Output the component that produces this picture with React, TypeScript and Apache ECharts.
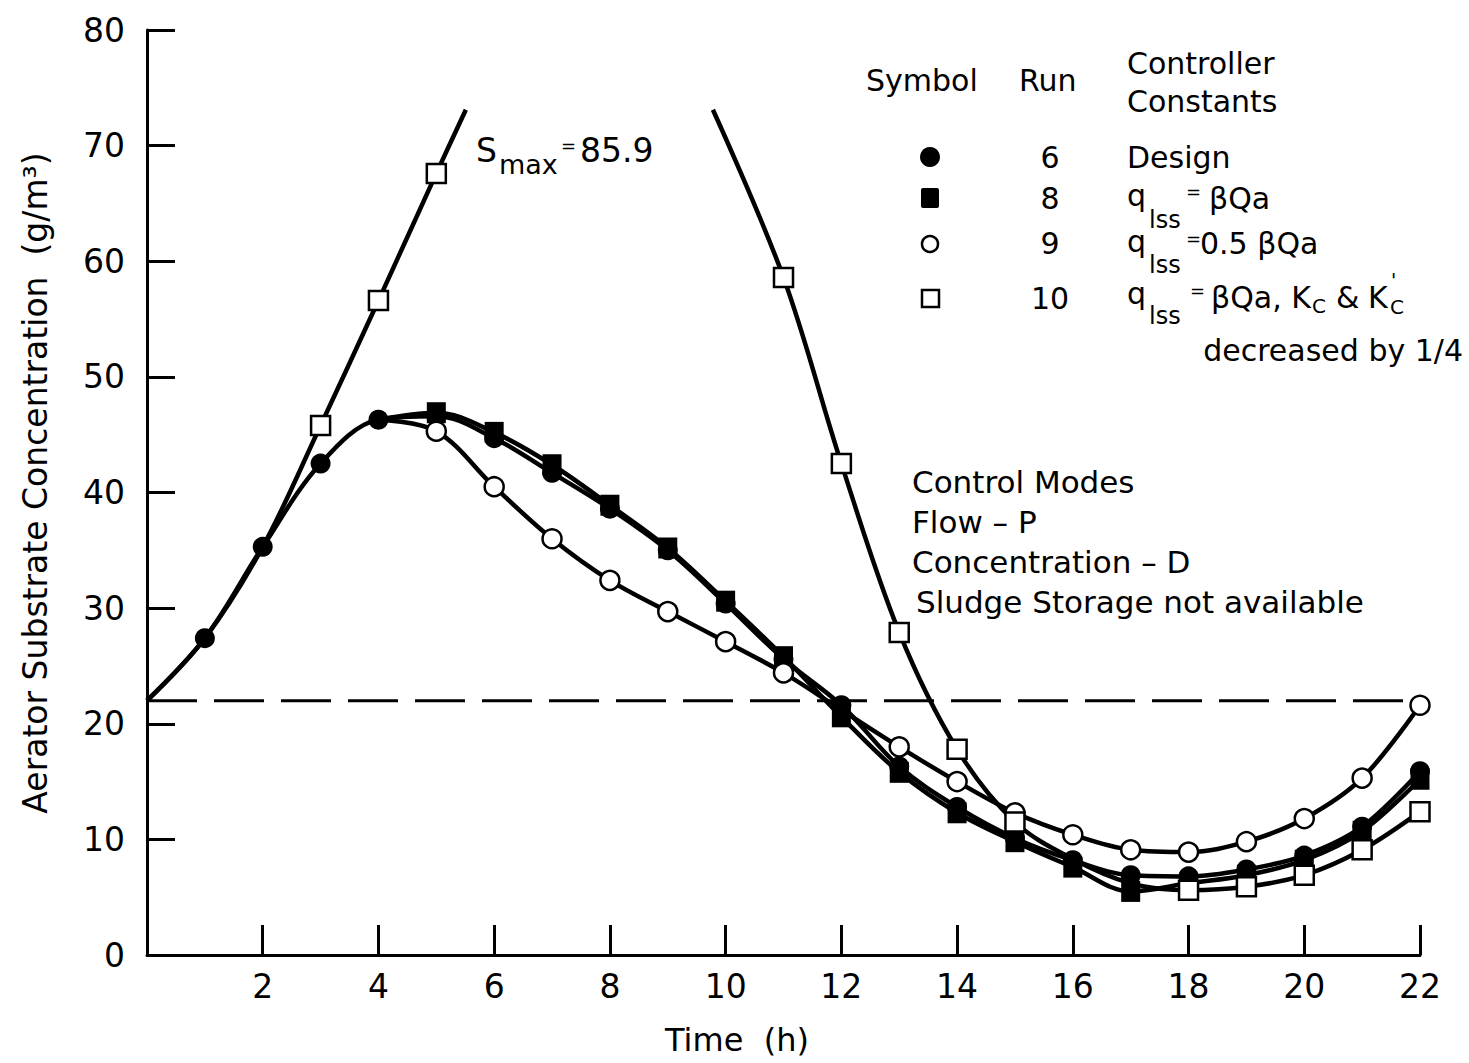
import React, { useEffect, useRef } from "react";
import * as echarts from "echarts";

// Aerator substrate concentration over a day for four controller runs.
const FONT = '"DejaVu Sans", "Liberation Sans", sans-serif';

const run6Hours = [0, 1, 2, 3, 4, 5, 6, 7, 8, 9, 10, 11, 12, 13, 14, 15, 16, 17, 18, 19, 20, 21, 22];
const run6Values = [22.0, 27.4, 35.3, 42.5, 46.3, 46.6, 44.7, 41.7, 38.6, 35.0, 30.4, 25.6, 21.6, 16.3, 12.8, 10.1, 8.2, 6.9, 6.8, 7.4, 8.6, 11.1, 15.9];
const run6Unmarked = [0];

const run8Hours = [4, 5, 6, 7, 8, 9, 10, 11, 12, 13, 14, 15, 16, 17, 18, 19, 20, 21, 22];
const run8Values = [46.3, 46.9, 45.2, 42.4, 38.9, 35.2, 30.6, 25.8, 20.6, 15.8, 12.3, 9.8, 7.6, 5.5, 6.2, 6.9, 8.2, 10.7, 15.2];
const run8Unmarked = [4];

const run9Hours = [4, 5, 6, 7, 8, 9, 10, 11, 12, 13, 14, 15, 16, 17, 18, 19, 20, 21, 22];
const run9Values = [46.3, 45.3, 40.5, 36.0, 32.4, 29.7, 27.1, 24.4, 21.2, 18.0, 15.0, 12.3, 10.4, 9.1, 8.9, 9.8, 11.8, 15.3, 21.6];
const run9Unmarked = [4, 12];

// Run 10 overshoots the plot (S max = 85.9); the curve is broken around the label.
const run10RiseHours = [0, 1, 2, 3, 4, 5, 5.51];
const run10RiseValues = [22.0, 27.4, 35.3, 45.8, 56.6, 67.6, 73.1];
const run10FallHours = [9.78, 11, 12, 13, 14, 15, 16, 17, 18, 19, 20, 21, 22];
const run10FallValues = [73.1, 58.6, 42.5, 27.9, 17.8, 11.5, 8.3, 6.2, 5.6, 5.9, 6.9, 9.1, 12.4];
const run10Unmarked = [0, 1, 2, 5.51, 9.78, 16, 17];

const initialLevel = 22;
const levelHours = [0, 22];

const xTicks = { min: 0, max: 22, interval: 2 };
const yTicks = { min: 0, max: 80, interval: 10 };

function points(hours: number[], values: number[], unmarked: number[]) {
  return hours.map((h, i) =>
    unmarked.includes(h) ? { value: [h, values[i]], symbol: "none" } : { value: [h, values[i]] }
  );
}

function txt(text: string, x: number, y: number, size: number, align = "left", rotation = 0) {
  return {
    type: "text",
    x,
    y,
    rotation,
    silent: true,
    style: {
      text,
      font: `${size}px ${FONT}`,
      fill: "#000",
      textAlign: align,
      textVerticalAlign: "middle",
      verticalAlign: "middle",
    },
  };
}

const lineBase = {
  type: "line",
  smooth: 0.35,
  lineStyle: { color: "#000", width: 4.5 },
  symbolSize: 20,
  silent: true,
};

export default function App() {
  const ref = useRef<HTMLDivElement>(null);

  useEffect(() => {
    if (!ref.current) return;
    const chart = echarts.init(ref.current, null, { renderer: "svg" });

    const option: any = {
      animation: false,
      backgroundColor: "#fff",
      grid: { left: 147, right: 49, top: 30, bottom: 108, outerBoundsMode: "none", containLabel: false },
      xAxis: {
        type: "value",
        ...xTicks,
        axisLine: { lineStyle: { color: "#000", width: 3 } },
        axisTick: { inside: true, length: 30, lineStyle: { color: "#000", width: 3 } },
        axisLabel: {
          margin: 15,
          fontFamily: FONT,
          fontSize: 33,
          color: "#000",
          formatter: (v: number) => (v === 0 ? "" : String(v)),
        },
        splitLine: { show: false },
      },
      yAxis: {
        type: "value",
        ...yTicks,
        axisLine: { show: true, lineStyle: { color: "#000", width: 3 } },
        axisTick: { show: true, inside: true, length: 28, lineStyle: { color: "#000", width: 3 } },
        axisLabel: { margin: 22, fontFamily: FONT, fontSize: 33, color: "#000" },
        splitLine: { show: false },
      },
      series: [
        {
          type: "line",
          data: levelHours.map((h) => [h, initialLevel]),
          symbol: "none",
          silent: true,
          lineStyle: { color: "#000", width: 3, type: [50, 17] },
        },
        {
          ...lineBase,
          name: "Run 6",
          symbol: "circle",
          itemStyle: { color: "#000" },
          data: points(run6Hours, run6Values, run6Unmarked),
        },
        {
          ...lineBase,
          name: "Run 8",
          symbol: "rect",
          symbolSize: [19, 21],
          itemStyle: { color: "#000" },
          data: points(run8Hours, run8Values, run8Unmarked),
        },
        {
          ...lineBase,
          name: "Run 9",
          symbol: "circle",
          symbolSize: 19,
          itemStyle: { color: "#fff", borderColor: "#000", borderWidth: 2.5 },
          data: points(run9Hours, run9Values, run9Unmarked),
        },
        {
          ...lineBase,
          name: "Run 10",
          symbol: "rect",
          symbolSize: 19,
          itemStyle: { color: "#fff", borderColor: "#000", borderWidth: 2.5 },
          data: points(run10RiseHours, run10RiseValues, run10Unmarked),
        },
        {
          ...lineBase,
          name: "Run 10 (falling)",
          symbol: "rect",
          symbolSize: 19,
          itemStyle: { color: "#fff", borderColor: "#000", borderWidth: 2.5 },
          data: points(run10FallHours, run10FallValues, run10Unmarked),
        },
      ],
      graphic: [
        // axis titles
        txt("Aerator Substrate Concentration  (g/m³)", 35, 483, 33, "center", Math.PI / 2),
        txt("Time  (h)", 737, 1040, 32, "center"),

        // S max annotation
        txt("S", 476, 150, 33),
        txt("max", 499, 164, 27),
        txt("=", 561, 145, 18),
        txt("85.9", 580, 150, 33),

        // legend header
        txt("Symbol", 866, 80, 30),
        txt("Run", 1019, 80, 30),
        txt("Controller", 1127, 63, 30),
        txt("Constants", 1127, 101, 30),

        // run 6
        { type: "circle", silent: true, shape: { cx: 930, cy: 157, r: 10 }, style: { fill: "#000" } },
        txt("6", 1050, 157, 30, "center"),
        txt("Design", 1127, 157, 30),

        // run 8
        { type: "rect", silent: true, shape: { x: 921, y: 188, width: 18, height: 20, r: 2 }, style: { fill: "#000" } },
        txt("8", 1050, 198, 30, "center"),
        txt("q", 1127, 195, 30),
        txt("lss", 1149, 220, 24),
        txt("=", 1186, 191, 18),
        txt("βQa", 1209, 198, 30),

        // run 9
        { type: "circle", silent: true, shape: { cx: 930, cy: 244, r: 8 }, style: { fill: "#fff", stroke: "#000", lineWidth: 2.5 } },
        txt("9", 1050, 243, 30, "center"),
        txt("q", 1127, 241, 30),
        txt("lss", 1149, 265, 24),
        txt("=", 1186, 238, 18),
        txt("0.5 βQa", 1200, 243, 30),

        // run 10
        { type: "rect", silent: true, shape: { x: 922, y: 290, width: 17, height: 17 }, style: { fill: "#fff", stroke: "#000", lineWidth: 2.5 } },
        txt("10", 1050, 298, 30, "center"),
        txt("q", 1127, 293, 30),
        txt("lss", 1149, 316, 24),
        txt("=", 1190, 290, 18),
        txt("βQa, K", 1211, 297, 30),
        txt("C", 1312, 306, 20),
        txt("&", 1336, 297, 30),
        txt("K", 1368, 297, 30),
        txt("'", 1391, 280, 19),
        txt("C", 1390, 307, 20),
        txt("decreased by 1/4", 1463, 350, 30, "right"),

        // control modes
        txt("Control Modes", 912, 482, 31),
        txt("Flow – P", 912, 522, 31),
        txt("Concentration – D", 912, 562, 31),
        txt("Sludge Storage not available", 916, 602, 31),
      ],
    };

    chart.setOption(option);
    return () => chart.dispose();
  }, []);

  return (
    <div
      ref={ref}
      style={{ position: "fixed", left: 0, top: 0, width: 1469, height: 1063, background: "#fff" }}
    />
  );
}
